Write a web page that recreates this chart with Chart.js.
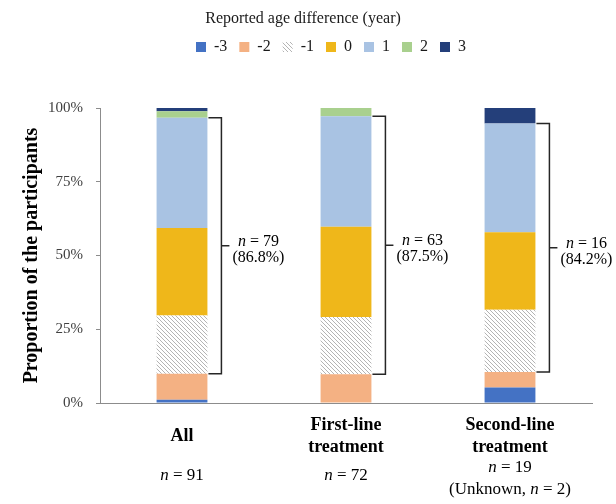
<!DOCTYPE html>
<html>
<head>
<meta charset="utf-8">
<script src="https://cdn.jsdelivr.net/npm/chart.js@4"></script>
<style>
  html, body { margin: 0; padding: 0; background: #fff; }
  #wrap { width: 616px; height: 504px; }
</style>
</head>
<body>
<div id="wrap"><canvas id="chart" width="616" height="504"></canvas></div>
<script>
// groups on the x axis
const groups = [["All"], ["First-line", "treatment"], ["Second-line", "treatment"]];
const groupN = [91, 72, 19];
const unknownN = [null, null, 2];

// reported age difference (years) and number of participants per group
const diffs = ["-3", "-2", "-1", "0", "1", "2", "3"];
const countM3 = [1, 0, 1];
const countM2 = [8, 7, 1];
const countM1 = [18, 14, 4];
const count0 = [27, 22, 5];
const countP1 = [34, 27, 7];
const countP2 = [2, 2, 0];
const countP3 = [1, 0, 1];

// bracket: participants within -1..+1 years
const bracketN = [79, 63, 16];
const bracketPct = ["86.8%", "87.5%", "84.2%"];

const yTicks = [0, 25, 50, 75, 100];

const serif = "'Liberation Serif', 'Times New Roman', serif";

function hatch() {
  const c = document.createElement("canvas");
  c.width = 4; c.height = 4;
  const g = c.getContext("2d");
  g.fillStyle = "#ffffff";
  g.fillRect(0, 0, 4, 4);
  g.strokeStyle = "#b4b4b4";
  g.lineWidth = 1;
  g.beginPath();
  g.moveTo(-1, -1); g.lineTo(5, 5);
  g.moveTo(-1, 3); g.lineTo(1, 5);
  g.moveTo(3, -1); g.lineTo(5, 1);
  g.stroke();
  return g.createPattern(c, "repeat");
}

const counts = [countM3, countM2, countM1, count0, countP1, countP2, countP3];
const fills = ["#4472c4", "#f4b183", hatch(), "#efb71a", "#a9c3e3", "#a9d08e", "#243f7a"];

const datasets = diffs.map((d, k) => ({
  label: d,
  data: counts[k].map((v, i) => v / groupN[i] * 100),
  backgroundColor: fills[k],
  borderWidth: 0,
  categoryPercentage: 1,
  barPercentage: 0.31
}));

// write text where the letter n is italic
function mixed(ctx, parts, cx, cy, size) {
  let w = 0;
  parts.forEach(p => {
    ctx.font = (p.i ? "italic " : "") + size + "px " + serif;
    w += ctx.measureText(p.t).width;
  });
  let x = cx - w / 2;
  ctx.textAlign = "left";
  ctx.textBaseline = "middle";
  parts.forEach(p => {
    ctx.font = (p.i ? "italic " : "") + size + "px " + serif;
    ctx.fillText(p.t, x, cy);
    x += ctx.measureText(p.t).width;
  });
  return w;
}

const extras = {
  id: "extras",
  afterDatasetsDraw(chart) {
    const ctx = chart.ctx;
    const xs = chart.scales.x, ys = chart.scales.y;
    ctx.save();
    ctx.fillStyle = "#000";
    groups.forEach((g, i) => {
      const cx = xs.getPixelForValue(i);
      // category label
      ctx.font = "bold 18px " + serif;
      ctx.textAlign = "center";
      ctx.textBaseline = "middle";
      const top = 436 - (g.length - 1) * 11;
      g.forEach((line, j) => ctx.fillText(line, cx, top + j * 22));
      // n line
      const ny = unknownN[i] == null ? 476 : 468;
      mixed(ctx, [{ t: "n", i: true }, { t: " = " + groupN[i] }], cx, ny, 17);
      if (unknownN[i] != null) {
        mixed(ctx, [{ t: "(Unknown, " }, { t: "n", i: true }, { t: " = " + unknownN[i] + ")" }], cx, ny + 22, 17);
      }
      // bracket around -1, 0, 1
      const bar = chart.getDatasetMeta(2).data[i];
      const right = bar.x + bar.width / 2;
      let lo = 0, hi = 0;
      for (let k = 0; k < 5; k++) {
        const v = datasets[k].data[i];
        if (k < 2) lo += v;
        hi += v;
      }
      const yLo = ys.getPixelForValue(lo), yHi = ys.getPixelForValue(hi);
      const bx = right + 14;
      ctx.strokeStyle = "#262626";
      ctx.lineWidth = 1.5;
      ctx.beginPath();
      ctx.moveTo(right + 1, yHi); ctx.lineTo(bx, yHi); ctx.lineTo(bx, yLo); ctx.lineTo(right + 1, yLo);
      const ym = (yLo + yHi) / 2;
      ctx.moveTo(bx, ym); ctx.lineTo(bx + 8, ym);
      ctx.stroke();
      ctx.font = "16px " + serif;
      const pw = ctx.measureText("(" + bracketPct[i] + ")").width;
      const tx = bx + 11 + pw / 2;
      mixed(ctx, [{ t: "n", i: true }, { t: " = " + bracketN[i] }], tx, ym - 4, 16);
      mixed(ctx, [{ t: "(" + bracketPct[i] + ")" }], tx, ym + 12, 16);
    });
    ctx.restore();
  }
};

// extra room under the legend, items nudged right of the title
const legendGap = {
  id: "legendGap",
  beforeInit(chart) {
    const fit = chart.legend.fit;
    chart.legend.fit = function () {
      fit.bind(chart.legend)();
      this.height += 43;
      if (this.lineWidths && this.lineWidths.length) this.lineWidths[0] -= 56;
    };
  }
};

new Chart(document.getElementById("chart"), {
  type: "bar",
  data: { labels: groups.map(g => g.join(" ")), datasets },
  plugins: [legendGap, extras],
  options: {
    responsive: false,
    animation: false,
    layout: { padding: { left: 14, right: 24, top: 4, bottom: 93 } },
    plugins: {
      tooltip: { enabled: false },
      legend: {
        position: "top",
        title: {
          display: true,
          text: "Reported age difference (year)",
          color: "#1a1a1a",
          font: { family: serif, size: 16, lineHeight: 1 },
          padding: { top: 7, bottom: 0 }
        },
        labels: {
          color: "#1a1a1a",
          font: { family: serif, size: 16 },
          boxWidth: 10,
          boxHeight: 10,
          padding: 12
        }
      }
    },
    scales: {
      x: {
        stacked: true,
        grid: { display: false },
        border: { color: "#8c8c8c", width: 1 },
        ticks: { display: false }
      },
      y: {
        stacked: true,
        min: 0,
        max: 100,
        afterBuildTicks: s => { s.ticks = yTicks.map(v => ({ value: v })); },
        afterFit: s => { s.width = 86; },
        grid: { display: true, drawOnChartArea: false, drawTicks: true, tickLength: 4, color: "#8c8c8c" },
        border: { color: "#8c8c8c", width: 1 },
        ticks: {
          color: "#404040",
          padding: 13,
          font: { family: serif, size: 15 },
          callback: v => v + "%"
        },
        title: {
          display: true,
          text: "Proportion of the participants",
          color: "#000",
          font: { family: serif, size: 20, weight: "bold" },
          padding: 6
        }
      }
    }
  }
});
</script>
</body>
</html>
